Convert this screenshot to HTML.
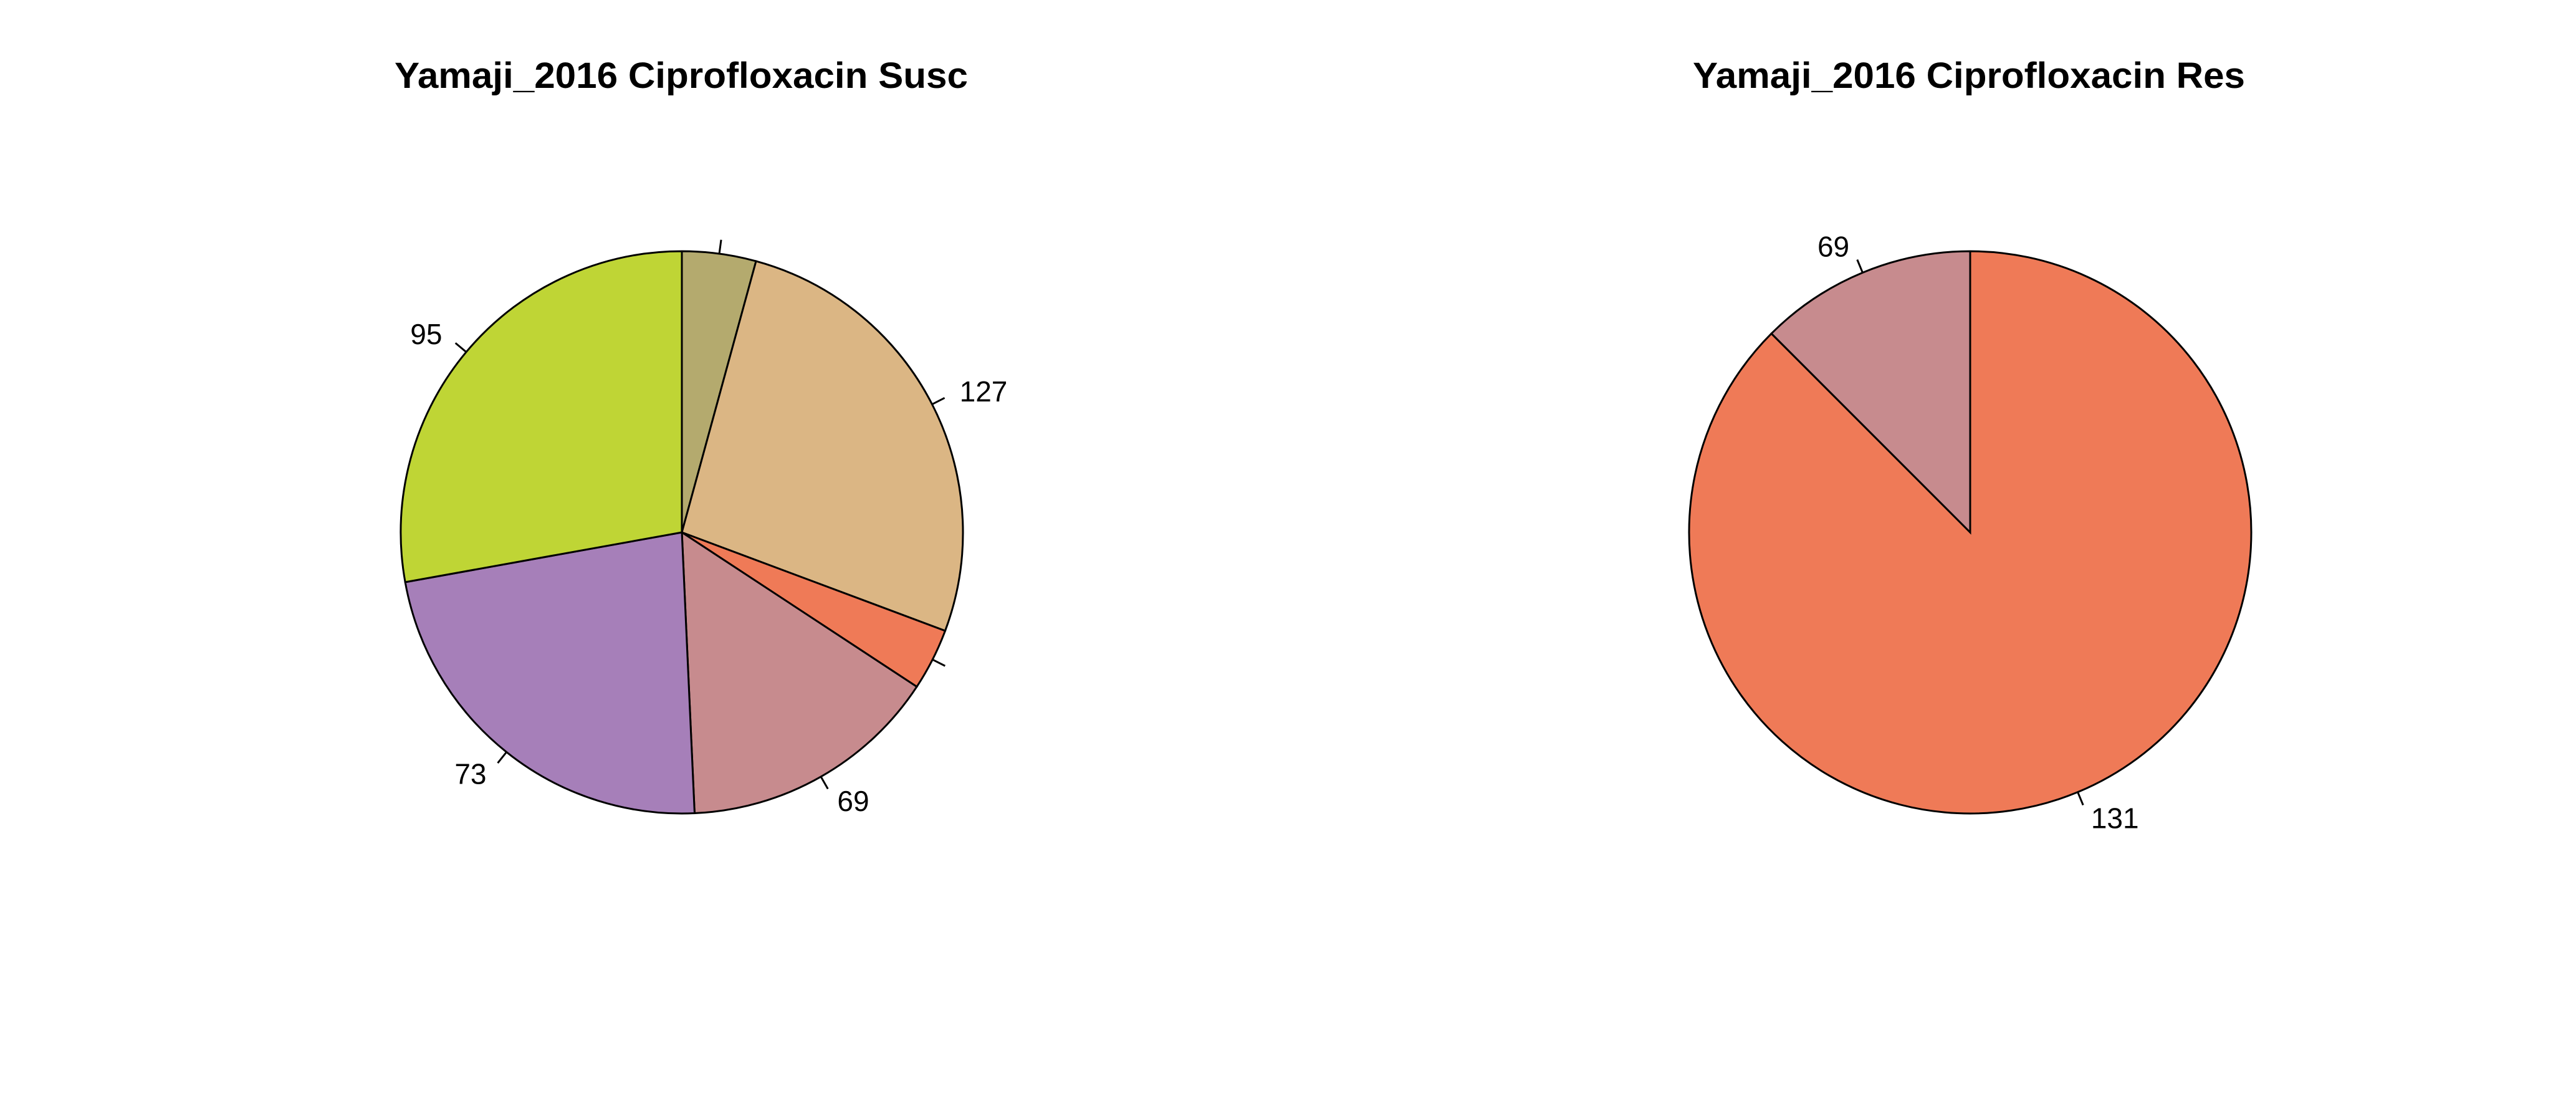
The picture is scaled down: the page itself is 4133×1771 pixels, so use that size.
<!DOCTYPE html>
<html><head><meta charset="utf-8"><style>
html,body{margin:0;padding:0;background:#fff;}
svg{display:block;}
text{font-family:"Liberation Sans",Arial,sans-serif;fill:#000;}
</style></head><body>
<svg id="chart" width="4133" height="1771" viewBox="0 0 4133 1771">
<text x="1093" y="141" font-size="58" font-weight="bold" text-anchor="middle" textLength="920" lengthAdjust="spacingAndGlyphs">Yamaji_2016 Ciprofloxacin Susc</text>
<text x="3159" y="141" font-size="58" font-weight="bold" text-anchor="middle" textLength="886" lengthAdjust="spacingAndGlyphs">Yamaji_2016 Ciprofloxacin Res</text>
<g id="pieL"></g>
<g id="pieR"></g>
</svg>
<script>
// Susceptible pie (clockwise from top)
const suscCategories = ["olive", "tan", "orange", "pink", "purple", "green"];
const suscValues = [15.3, 95.2, 12.8, 54.1, 82.4, 100.2];
const suscLabels = ["", "127", "", "69", "73", "95"];
const suscColors = ["#B4AA6E", "#DBB684", "#EF7A57", "#C78B8E", "#A67FB9", "#BFD535"];
// Resistant pie
const resCategories = ["orange", "pink"];
const resValues = [315, 45];
const resLabels = ["131", "69"];
const resColors = ["#EF7A57", "#C78B8E"];

const NS = "http://www.w3.org/2000/svg";
function drawPie(gid, cx, cy, r, values, labels, colors, cats) {
  const g = document.getElementById(gid);
  const total = values.reduce((a, b) => a + b, 0);
  let acc = 0;
  const pt = (ang, rad) => [cx + rad * Math.sin(ang), cy - rad * Math.cos(ang)];
  values.forEach((v, i) => {
    const a0 = acc / total * 2 * Math.PI;
    acc += v;
    const a1 = acc / total * 2 * Math.PI;
    const p0 = pt(a0, r), p1 = pt(a1, r);
    const large = (a1 - a0) > Math.PI ? 1 : 0;
    const path = document.createElementNS(NS, "path");
    path.setAttribute("d", `M${cx},${cy} L${p0[0]},${p0[1]} A${r},${r} 0 ${large} 1 ${p1[0]},${p1[1]} Z`);
    path.setAttribute("fill", colors[i]);
    path.setAttribute("stroke", "#000");
    path.setAttribute("stroke-width", "3");
    
    
    g.appendChild(path);
  });
  acc = 0;
  values.forEach((v, i) => {
    const a0 = acc / total * 2 * Math.PI;
    acc += v;
    const a1 = acc / total * 2 * Math.PI;
    const am = (a0 + a1) / 2;
    const t0 = pt(am, r), t1 = pt(am, r * 1.05);
    const ln = document.createElementNS(NS, "line");
    ln.setAttribute("x1", t0[0]); ln.setAttribute("y1", t0[1]);
    ln.setAttribute("x2", t1[0]); ln.setAttribute("y2", t1[1]);
    ln.setAttribute("stroke", "#000"); ln.setAttribute("stroke-width", "3");
    
    
    g.appendChild(ln);
    if (labels[i]) {
      const p = pt(am, r * 1.1);
      const t = document.createElementNS(NS, "text");
      t.setAttribute("x", p[0] + (Math.sin(am) >= 0 ? 4 : -4));
      t.setAttribute("y", p[1] + 16);
      t.setAttribute("font-size", "46");
      t.setAttribute("text-anchor", Math.sin(am) >= 0 ? "start" : "end");
      t.textContent = labels[i];
      
      
      g.appendChild(t);
    }
  });
}
drawPie("pieL", 1094, 854, 451, suscValues, suscLabels, suscColors, suscCategories);
drawPie("pieR", 3161, 854, 451, resValues, resLabels, resColors, resCategories);
</script>
</body></html>
